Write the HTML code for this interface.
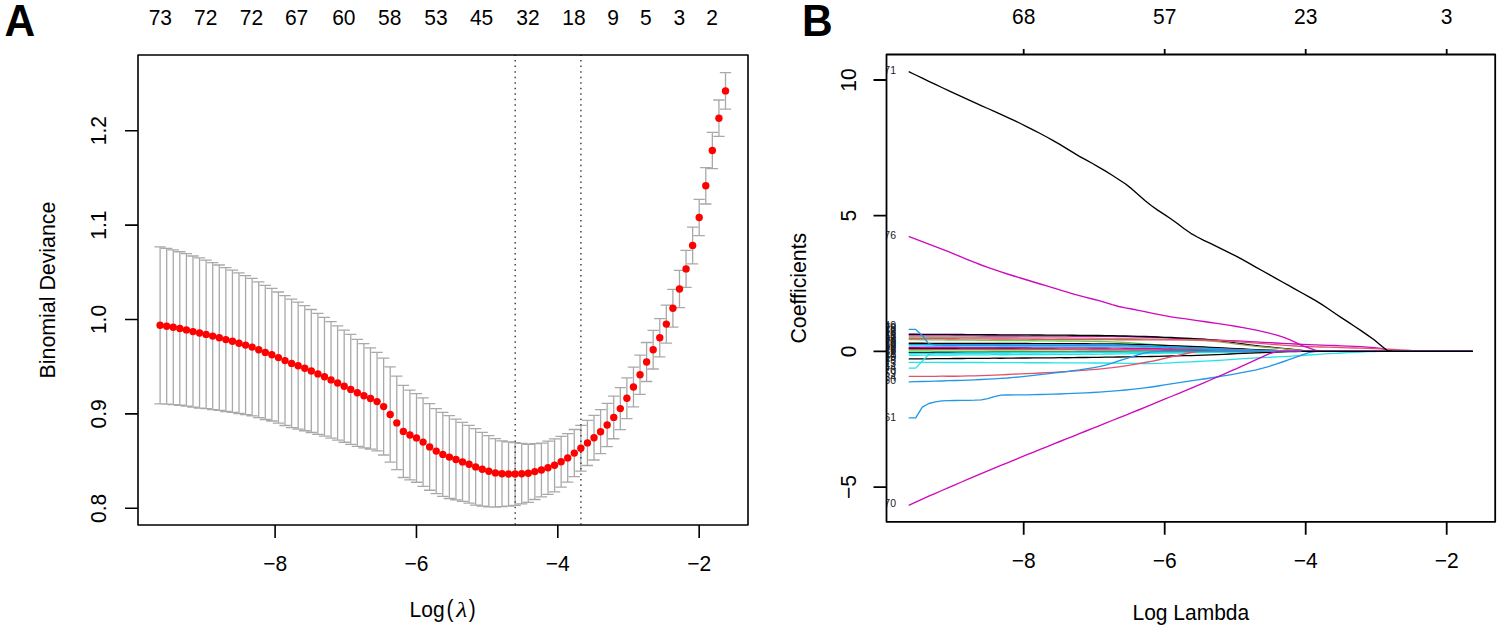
<!DOCTYPE html><html><head><meta charset="utf-8"><style>html,body{margin:0;padding:0;background:#fff;width:1500px;height:633px;overflow:hidden;position:relative}</style></head><body>
<svg width="1500" height="633" viewBox="0 0 1500 633" style="position:absolute;left:0;top:0">
<rect width="1500" height="633" fill="#fff"/>
<path d="M160.10 246.81V403.79M154.45 246.81H165.75M154.45 403.79H165.75M166.67 248.38V404.22M161.02 248.38H172.32M161.02 404.22H172.32M173.25 249.96V404.64M167.60 249.96H178.90M167.60 404.64H178.90M179.82 251.73V405.27M174.17 251.73H185.47M174.17 405.27H185.47M186.40 253.71V406.09M180.75 253.71H192.05M180.75 406.09H192.05M192.97 255.99V407.21M187.32 255.99H198.62M187.32 407.21H198.62M199.55 257.96V408.04M193.90 257.96H205.20M193.90 408.04H205.20M206.12 260.13V408.67M200.47 260.13H211.77M200.47 408.67H211.77M212.70 262.62V409.58M207.05 262.62H218.35M207.05 409.58H218.35M219.27 265.01V410.39M213.62 265.01H224.92M213.62 410.39H224.92M225.84 267.70V411.50M220.19 267.70H231.49M220.19 411.50H231.49M232.42 270.19V412.41M226.77 270.19H238.07M226.77 412.41H238.07M238.99 272.88V413.52M233.34 272.88H244.64M233.34 413.52H244.64M245.57 275.58V414.62M239.92 275.58H251.22M239.92 414.62H251.22M252.14 278.38V415.82M246.49 278.38H257.79M246.49 415.82H257.79M258.72 281.88V417.72M253.07 281.88H264.37M253.07 417.72H264.37M265.29 285.28V419.52M259.64 285.28H270.94M259.64 419.52H270.94M271.87 288.38V421.02M266.22 288.38H277.52M266.22 421.02H277.52M278.44 291.99V423.21M272.79 291.99H284.09M272.79 423.21H284.09M285.01 295.69V425.51M279.36 295.69H290.66M279.36 425.51H290.66M291.59 299.20V427.60M285.94 299.20H297.24M285.94 427.60H297.24M298.16 302.20V429.20M292.51 302.20H303.81M292.51 429.20H303.81M304.74 305.66V430.74M299.09 305.66H310.39M299.09 430.74H310.39M311.31 309.51V432.49M305.66 309.51H316.96M305.66 432.49H316.96M317.89 313.46V434.34M312.24 313.46H323.54M312.24 434.34H323.54M324.46 317.31V436.09M318.81 317.31H330.11M318.81 436.09H330.11M331.03 321.62V438.18M325.38 321.62H336.68M325.38 438.18H336.68M337.61 325.84V440.16M331.96 325.84H343.26M331.96 440.16H343.26M344.18 330.16V442.24M338.53 330.16H349.83M338.53 442.24H349.83M350.76 334.47V444.33M345.11 334.47H356.41M345.11 444.33H356.41M357.33 339.28V446.32M351.68 339.28H362.98M351.68 446.32H362.98M363.91 343.62V447.78M358.26 343.62H369.56M358.26 447.78H369.56M370.48 347.85V449.15M364.83 347.85H376.13M364.83 449.15H376.13M377.06 352.39V450.81M371.41 352.39H382.71M371.41 450.81H382.71M383.63 358.21V454.99M377.98 358.21H389.28M377.98 454.99H389.28M390.20 366.81V462.19M384.55 366.81H395.85M384.55 462.19H395.85M396.78 376.13V469.67M391.13 376.13H402.43M391.13 469.67H402.43M403.35 385.29V477.51M397.70 385.29H409.00M397.70 477.51H409.00M409.93 390.19V479.81M404.28 390.19H415.58M404.28 479.81H415.58M416.50 393.53V482.27M410.85 393.53H422.15M410.85 482.27H422.15M423.08 397.90V486.30M417.43 397.90H428.73M417.43 486.30H428.73M429.65 403.54V490.26M424.00 403.54H435.30M424.00 490.26H435.30M436.23 408.59V493.61M430.58 408.59H441.88M430.58 493.61H441.88M442.80 412.44V496.36M437.15 412.44H448.45M437.15 496.36H448.45M449.37 415.69V498.51M443.72 415.69H455.02M443.72 498.51H455.02M455.95 419.03V499.97M450.30 419.03H461.60M450.30 499.97H461.60M462.52 422.37V501.43M456.87 422.37H468.17M456.87 501.43H468.17M469.10 425.33V503.07M463.45 425.33H474.75M463.45 503.07H474.75M475.67 428.69V505.11M470.02 428.69H481.32M470.02 505.11H481.32M482.25 432.39V506.21M476.60 432.39H487.90M476.60 506.21H487.90M488.82 435.70V506.90M483.17 435.70H494.47M483.17 506.90H494.47M495.40 438.68V507.12M489.75 438.68H501.05M489.75 507.12H501.05M501.97 440.85V506.55M496.32 440.85H507.62M496.32 506.55H507.62M508.54 441.88V506.12M502.89 441.88H514.19M502.89 506.12H514.19M515.12 442.58V505.42M509.47 442.58H520.77M509.47 505.42H520.77M521.69 443.46V503.94M516.04 443.46H527.34M516.04 503.94H527.34M528.27 444.25V502.35M522.62 444.25H533.92M522.62 502.35H533.92M534.84 443.68V499.52M529.19 443.68H540.49M529.19 499.52H540.49M541.42 443.20V496.80M535.77 443.20H547.07M535.77 496.80H547.07M547.99 441.05V494.35M542.34 441.05H553.64M542.34 494.35H553.64M554.57 438.80V491.80M548.92 438.80H560.22M548.92 491.80H560.22M561.14 436.41V487.19M555.49 436.41H566.79M555.49 487.19H566.79M567.71 433.65V482.15M562.06 433.65H573.36M562.06 482.15H573.36M574.29 429.52V476.68M568.64 429.52H579.94M568.64 476.68H579.94M580.86 425.28V471.12M575.21 425.28H586.51M575.21 471.12H586.51M587.44 420.29V465.51M581.79 420.29H593.09M581.79 465.51H593.09M594.01 415.39V460.01M588.36 415.39H599.66M588.36 460.01H599.66M600.59 409.69V453.71M594.94 409.69H606.24M594.94 453.71H606.24M607.16 403.32V446.68M601.51 403.32H612.81M601.51 446.68H612.81M613.73 396.05V438.75M608.08 396.05H619.38M608.08 438.75H619.38M620.31 387.59V429.61M614.66 387.59H625.96M614.66 429.61H625.96M626.88 377.88V418.72M621.23 377.88H632.53M621.23 418.72H632.53M633.46 367.20V406.80M627.81 367.20H639.11M627.81 406.80H639.11M640.03 355.16V394.44M634.38 355.16H645.68M634.38 394.44H645.68M646.61 342.52V381.48M640.96 342.52H652.26M640.96 381.48H652.26M653.18 330.38V369.02M647.53 330.38H658.83M647.53 369.02H658.83M659.76 318.64V356.96M654.11 318.64H665.41M654.11 356.96H665.41M666.33 305.10V343.10M660.68 305.10H671.98M660.68 343.10H671.98M672.90 289.36V327.04M667.25 289.36H678.55M667.25 327.04H678.55M679.48 270.32V307.68M673.83 270.32H685.13M673.83 307.68H685.13M686.05 250.38V287.42M680.40 250.38H691.70M680.40 287.42H691.70M692.63 227.14V263.86M686.98 227.14H698.28M686.98 263.86H698.28M699.20 199.30V235.70M693.55 199.30H704.85M693.55 235.70H704.85M705.78 167.60V204.00M700.13 167.60H711.43M700.13 204.00H711.43M712.35 132.30V168.70M706.70 132.30H718.00M706.70 168.70H718.00M718.93 100.00V136.40M713.28 100.00H724.58M713.28 136.40H724.58M725.50 72.70V109.10M719.85 72.70H731.15M719.85 109.10H731.15" stroke="#a9a9a9" stroke-width="1.3" fill="none"/>
<line x1="515.2" y1="55" x2="515.2" y2="525.0" stroke="#444" stroke-width="1.5" stroke-dasharray="1.5 4.013" stroke-dashoffset="-5.1"/>
<line x1="580.9" y1="55" x2="580.9" y2="525.0" stroke="#444" stroke-width="1.5" stroke-dasharray="1.5 4.013" stroke-dashoffset="-5.1"/>
<g fill="#ff0000"><circle cx="160.10" cy="325.30" r="3.7"/><circle cx="166.67" cy="326.30" r="3.7"/><circle cx="173.25" cy="327.30" r="3.7"/><circle cx="179.82" cy="328.50" r="3.7"/><circle cx="186.40" cy="329.90" r="3.7"/><circle cx="192.97" cy="331.60" r="3.7"/><circle cx="199.55" cy="333.00" r="3.7"/><circle cx="206.12" cy="334.40" r="3.7"/><circle cx="212.70" cy="336.10" r="3.7"/><circle cx="219.27" cy="337.70" r="3.7"/><circle cx="225.84" cy="339.60" r="3.7"/><circle cx="232.42" cy="341.30" r="3.7"/><circle cx="238.99" cy="343.20" r="3.7"/><circle cx="245.57" cy="345.10" r="3.7"/><circle cx="252.14" cy="347.10" r="3.7"/><circle cx="258.72" cy="349.80" r="3.7"/><circle cx="265.29" cy="352.40" r="3.7"/><circle cx="271.87" cy="354.70" r="3.7"/><circle cx="278.44" cy="357.60" r="3.7"/><circle cx="285.01" cy="360.60" r="3.7"/><circle cx="291.59" cy="363.40" r="3.7"/><circle cx="298.16" cy="365.70" r="3.7"/><circle cx="304.74" cy="368.20" r="3.7"/><circle cx="311.31" cy="371.00" r="3.7"/><circle cx="317.89" cy="373.90" r="3.7"/><circle cx="324.46" cy="376.70" r="3.7"/><circle cx="331.03" cy="379.90" r="3.7"/><circle cx="337.61" cy="383.00" r="3.7"/><circle cx="344.18" cy="386.20" r="3.7"/><circle cx="350.76" cy="389.40" r="3.7"/><circle cx="357.33" cy="392.80" r="3.7"/><circle cx="363.91" cy="395.70" r="3.7"/><circle cx="370.48" cy="398.50" r="3.7"/><circle cx="377.06" cy="401.60" r="3.7"/><circle cx="383.63" cy="406.60" r="3.7"/><circle cx="390.20" cy="414.50" r="3.7"/><circle cx="396.78" cy="422.90" r="3.7"/><circle cx="403.35" cy="431.40" r="3.7"/><circle cx="409.93" cy="435.00" r="3.7"/><circle cx="416.50" cy="437.90" r="3.7"/><circle cx="423.08" cy="442.10" r="3.7"/><circle cx="429.65" cy="446.90" r="3.7"/><circle cx="436.23" cy="451.10" r="3.7"/><circle cx="442.80" cy="454.40" r="3.7"/><circle cx="449.37" cy="457.10" r="3.7"/><circle cx="455.95" cy="459.50" r="3.7"/><circle cx="462.52" cy="461.90" r="3.7"/><circle cx="469.10" cy="464.20" r="3.7"/><circle cx="475.67" cy="466.90" r="3.7"/><circle cx="482.25" cy="469.30" r="3.7"/><circle cx="488.82" cy="471.30" r="3.7"/><circle cx="495.40" cy="472.90" r="3.7"/><circle cx="501.97" cy="473.70" r="3.7"/><circle cx="508.54" cy="474.00" r="3.7"/><circle cx="515.12" cy="474.00" r="3.7"/><circle cx="521.69" cy="473.70" r="3.7"/><circle cx="528.27" cy="473.30" r="3.7"/><circle cx="534.84" cy="471.60" r="3.7"/><circle cx="541.42" cy="470.00" r="3.7"/><circle cx="547.99" cy="467.70" r="3.7"/><circle cx="554.57" cy="465.30" r="3.7"/><circle cx="561.14" cy="461.80" r="3.7"/><circle cx="567.71" cy="457.90" r="3.7"/><circle cx="574.29" cy="453.10" r="3.7"/><circle cx="580.86" cy="448.20" r="3.7"/><circle cx="587.44" cy="442.90" r="3.7"/><circle cx="594.01" cy="437.70" r="3.7"/><circle cx="600.59" cy="431.70" r="3.7"/><circle cx="607.16" cy="425.00" r="3.7"/><circle cx="613.73" cy="417.40" r="3.7"/><circle cx="620.31" cy="408.60" r="3.7"/><circle cx="626.88" cy="398.30" r="3.7"/><circle cx="633.46" cy="387.00" r="3.7"/><circle cx="640.03" cy="374.80" r="3.7"/><circle cx="646.61" cy="362.00" r="3.7"/><circle cx="653.18" cy="349.70" r="3.7"/><circle cx="659.76" cy="337.80" r="3.7"/><circle cx="666.33" cy="324.10" r="3.7"/><circle cx="672.90" cy="308.20" r="3.7"/><circle cx="679.48" cy="289.00" r="3.7"/><circle cx="686.05" cy="268.90" r="3.7"/><circle cx="692.63" cy="245.50" r="3.7"/><circle cx="699.20" cy="217.50" r="3.7"/><circle cx="705.78" cy="185.80" r="3.7"/><circle cx="712.35" cy="150.50" r="3.7"/><circle cx="718.93" cy="118.20" r="3.7"/><circle cx="725.50" cy="90.90" r="3.7"/></g>
<rect x="138" y="55" width="610" height="470.0" fill="none" stroke="#000" stroke-width="1.6" stroke-linejoin="round"/>
<path d="M125 508.30H138M125 413.90H138M125 319.50H138M125 225.10H138M125 130.70H138M275.10 525.0V538.0M416.46 525.0V538.0M557.82 525.0V538.0M699.18 525.0V538.0" stroke="#000" stroke-width="1.6" fill="none"/>
<g font-family='"Liberation Sans", sans-serif' font-size="21" fill="#000">
<text transform="translate(106.30 508.30) rotate(-90) scale(1 1.04)" text-anchor="middle">0.8</text>
<text transform="translate(106.30 413.90) rotate(-90) scale(1 1.04)" text-anchor="middle">0.9</text>
<text transform="translate(106.30 319.50) rotate(-90) scale(1 1.04)" text-anchor="middle">1.0</text>
<text transform="translate(106.30 225.10) rotate(-90) scale(1 1.04)" text-anchor="middle">1.1</text>
<text transform="translate(106.30 130.70) rotate(-90) scale(1 1.04)" text-anchor="middle">1.2</text>
<text transform="translate(275.10 570.90) scale(1 1.04)" text-anchor="middle">−8</text>
<text transform="translate(416.46 570.90) scale(1 1.04)" text-anchor="middle">−6</text>
<text transform="translate(557.82 570.90) scale(1 1.04)" text-anchor="middle">−4</text>
<text transform="translate(699.18 570.90) scale(1 1.04)" text-anchor="middle">−2</text>
<text transform="translate(160.30 24.60) scale(1 1.04)" text-anchor="middle">73</text>
<text transform="translate(205.70 24.60) scale(1 1.04)" text-anchor="middle">72</text>
<text transform="translate(251.50 24.60) scale(1 1.04)" text-anchor="middle">72</text>
<text transform="translate(296.60 24.60) scale(1 1.04)" text-anchor="middle">67</text>
<text transform="translate(343.80 24.60) scale(1 1.04)" text-anchor="middle">60</text>
<text transform="translate(389.70 24.60) scale(1 1.04)" text-anchor="middle">58</text>
<text transform="translate(436.00 24.60) scale(1 1.04)" text-anchor="middle">53</text>
<text transform="translate(481.60 24.60) scale(1 1.04)" text-anchor="middle">45</text>
<text transform="translate(528.00 24.60) scale(1 1.04)" text-anchor="middle">32</text>
<text transform="translate(574.00 24.60) scale(1 1.04)" text-anchor="middle">18</text>
<text transform="translate(613.00 24.60) scale(1 1.04)" text-anchor="middle">9</text>
<text transform="translate(645.80 24.60) scale(1 1.04)" text-anchor="middle">5</text>
<text transform="translate(679.40 24.60) scale(1 1.04)" text-anchor="middle">3</text>
<text transform="translate(712.00 24.60) scale(1 1.04)" text-anchor="middle">2</text>
<text transform="translate(55.30 290.00) rotate(-90) scale(1.0175 1.04)" text-anchor="middle">Binomial Deviance</text>
<text transform="translate(409.60 617.00) scale(1 1.04)" text-anchor="start">Log</text>
<text transform="translate(446.4 616.7) scale(1 1.11)">(</text>
<text transform="translate(468.8 616.7) scale(1 1.11)">)</text>
<text transform="translate(456.2 616.7) scale(1.2 1)" font-size="21.3" font-family="'Liberation Serif', serif" font-style="italic">λ</text>
</g>
<text transform="translate(4.6 35.6) scale(1 1.035)" font-family='"Liberation Sans", sans-serif' font-weight="bold" font-size="42.5" fill="#000">A</text>
<g fill="none" stroke-width="1.35" stroke-linejoin="round" stroke-linecap="round">
<path d="M909.2 335.8L915.7 335.8L922.3 335.8L928.8 335.8L935.4 335.9L941.9 335.9L948.5 335.9L955.0 335.9L961.6 335.9L968.1 335.9L974.7 335.9L981.2 336.0L987.8 336.0L994.3 336.0L1000.9 336.0L1007.4 336.0L1014.0 336.0L1020.5 336.0L1027.1 336.1L1033.6 336.1L1040.2 336.1L1046.7 336.1L1053.2 336.1L1059.8 336.1L1066.3 336.2L1072.9 336.2L1079.4 336.2L1086.0 336.2L1092.5 336.3L1099.1 336.3L1105.6 336.3L1112.2 336.4L1118.7 336.5L1125.3 336.7L1131.8 336.8L1138.4 337.0L1144.9 337.2L1151.5 337.5L1158.0 337.7L1164.6 337.9L1171.1 338.2L1177.7 338.4L1184.2 338.7L1190.8 338.9L1197.3 339.2L1203.8 339.4L1210.4 339.7L1216.9 340.0L1223.5 340.3L1230.0 340.6L1236.6 340.9L1243.1 341.2L1249.7 341.6L1256.2 341.9L1262.8 342.3L1269.3 342.6L1275.9 343.0L1282.4 343.3L1289.0 343.6L1295.5 344.0L1302.1 344.3L1308.6 344.6L1315.2 344.8L1321.7 345.1L1328.3 345.3L1334.8 345.5L1341.3 345.8L1347.9 346.1L1354.4 346.4L1361.0 346.7L1367.5 347.2L1374.1 347.7L1380.6 348.3L1387.2 350.0L1393.7 351.4L1400.3 351.4L1406.8 351.4L1413.4 351.4L1419.9 351.4L1426.5 351.4L1433.0 351.4L1439.6 351.4L1446.1 351.4L1452.7 351.4L1459.2 351.4L1465.8 351.4L1472.3 351.4" stroke="#CD0BBC"/>
<path d="M909.2 334.2L915.7 334.2L922.3 334.3L928.8 334.3L935.4 334.4L941.9 334.4L948.5 334.4L955.0 334.5L961.6 334.5L968.1 334.6L974.7 334.6L981.2 334.7L987.8 334.7L994.3 334.7L1000.9 334.8L1007.4 334.8L1014.0 334.9L1020.5 334.9L1027.1 334.9L1033.6 335.0L1040.2 335.0L1046.7 335.1L1053.2 335.1L1059.8 335.1L1066.3 335.2L1072.9 335.2L1079.4 335.3L1086.0 335.4L1092.5 335.4L1099.1 335.5L1105.6 335.6L1112.2 335.7L1118.7 335.8L1125.3 336.0L1131.8 336.1L1138.4 336.3L1144.9 336.5L1151.5 336.7L1158.0 337.0L1164.6 337.3L1171.1 337.5L1177.7 337.8L1184.2 338.2L1190.8 338.5L1197.3 338.8L1203.8 339.2L1210.4 339.8L1216.9 340.5L1223.5 341.3L1230.0 342.2L1236.6 343.1L1243.1 344.0L1249.7 344.9L1256.2 345.7L1262.8 346.4L1269.3 347.0L1275.9 347.7L1282.4 348.4L1289.0 349.0L1295.5 349.7L1302.1 350.3L1308.6 350.7L1315.2 351.1L1321.7 351.3L1328.3 351.4L1334.8 351.4L1341.3 351.4L1347.9 351.4L1354.4 351.4L1361.0 351.4L1367.5 351.4L1374.1 351.4L1380.6 351.4L1387.2 351.4L1393.7 351.4L1400.3 351.4L1406.8 351.4L1413.4 351.4L1419.9 351.4L1426.5 351.4L1433.0 351.4L1439.6 351.4L1446.1 351.4L1452.7 351.4L1459.2 351.4L1465.8 351.4L1472.3 351.4" stroke="#000000"/>
<path d="M909.2 337.1L915.7 337.1L922.3 337.2L928.8 337.2L935.4 337.3L941.9 337.3L948.5 337.3L955.0 337.4L961.6 337.4L968.1 337.4L974.7 337.5L981.2 337.5L987.8 337.6L994.3 337.6L1000.9 337.6L1007.4 337.7L1014.0 337.7L1020.5 337.8L1027.1 337.8L1033.6 337.8L1040.2 337.9L1046.7 337.9L1053.2 337.9L1059.8 338.0L1066.3 338.0L1072.9 338.1L1079.4 338.1L1086.0 338.2L1092.5 338.2L1099.1 338.3L1105.6 338.4L1112.2 338.4L1118.7 338.5L1125.3 338.6L1131.8 338.7L1138.4 338.8L1144.9 338.9L1151.5 339.1L1158.0 339.2L1164.6 339.4L1171.1 339.6L1177.7 339.7L1184.2 339.9L1190.8 340.2L1197.3 340.4L1203.8 340.7L1210.4 341.1L1216.9 341.7L1223.5 342.4L1230.0 343.2L1236.6 344.0L1243.1 344.8L1249.7 345.6L1256.2 346.4L1262.8 347.0L1269.3 347.5L1275.9 348.1L1282.4 348.7L1289.0 349.3L1295.5 349.9L1302.1 350.4L1308.6 350.8L1315.2 351.1L1321.7 351.3L1328.3 351.4L1334.8 351.4L1341.3 351.4L1347.9 351.4L1354.4 351.4L1361.0 351.4L1367.5 351.4L1374.1 351.4L1380.6 351.4L1387.2 351.4L1393.7 351.4L1400.3 351.4L1406.8 351.4L1413.4 351.4L1419.9 351.4L1426.5 351.4L1433.0 351.4L1439.6 351.4L1446.1 351.4L1452.7 351.4L1459.2 351.4L1465.8 351.4L1472.3 351.4" stroke="#a0a060"/>
<path d="M909.2 339.6L915.7 339.7L922.3 339.7L928.8 339.8L935.4 339.8L941.9 339.9L948.5 340.0L955.0 340.0L961.6 340.1L968.1 340.1L974.7 340.2L981.2 340.3L987.8 340.3L994.3 340.4L1000.9 340.5L1007.4 340.5L1014.0 340.6L1020.5 340.6L1027.1 340.7L1033.6 340.7L1040.2 340.8L1046.7 340.8L1053.2 340.9L1059.8 341.0L1066.3 341.0L1072.9 341.1L1079.4 341.2L1086.0 341.3L1092.5 341.4L1099.1 341.5L1105.6 341.6L1112.2 341.9L1118.7 342.1L1125.3 342.5L1131.8 342.9L1138.4 343.3L1144.9 343.8L1151.5 344.3L1158.0 344.8L1164.6 345.3L1171.1 345.8L1177.7 346.2L1184.2 346.7L1190.8 347.1L1197.3 347.5L1203.8 347.8L1210.4 348.1L1216.9 348.4L1223.5 348.7L1230.0 349.0L1236.6 349.2L1243.1 349.5L1249.7 349.7L1256.2 349.9L1262.8 350.2L1269.3 350.4L1275.9 350.6L1282.4 350.9L1289.0 351.1L1295.5 351.2L1302.1 351.3L1308.6 351.4L1315.2 351.4L1321.7 351.4L1328.3 351.4L1334.8 351.4L1341.3 351.4L1347.9 351.4L1354.4 351.4L1361.0 351.4L1367.5 351.4L1374.1 351.4L1380.6 351.4L1387.2 351.4L1393.7 351.4L1400.3 351.4L1406.8 351.4L1413.4 351.4L1419.9 351.4L1426.5 351.4L1433.0 351.4L1439.6 351.4L1446.1 351.4L1452.7 351.4L1459.2 351.4L1465.8 351.4L1472.3 351.4" stroke="#61D04F"/>
<path d="M909.2 343.2L915.7 343.2L922.3 343.2L928.8 343.3L935.4 343.3L941.9 343.3L948.5 343.3L955.0 343.3L961.6 343.4L968.1 343.4L974.7 343.4L981.2 343.4L987.8 343.4L994.3 343.5L1000.9 343.5L1007.4 343.5L1014.0 343.5L1020.5 343.5L1027.1 343.5L1033.6 343.6L1040.2 343.6L1046.7 343.6L1053.2 343.6L1059.8 343.6L1066.3 343.6L1072.9 343.7L1079.4 343.7L1086.0 343.7L1092.5 343.8L1099.1 343.8L1105.6 343.8L1112.2 343.9L1118.7 344.0L1125.3 344.2L1131.8 344.3L1138.4 344.5L1144.9 344.7L1151.5 344.9L1158.0 345.2L1164.6 345.4L1171.1 345.7L1177.7 345.9L1184.2 346.2L1190.8 346.4L1197.3 346.7L1203.8 347.0L1210.4 347.3L1216.9 347.6L1223.5 347.9L1230.0 348.3L1236.6 348.7L1243.1 349.0L1249.7 349.3L1256.2 349.6L1262.8 349.9L1269.3 350.2L1275.9 350.5L1282.4 350.8L1289.0 351.0L1295.5 351.2L1302.1 351.3L1308.6 351.4L1315.2 351.4L1321.7 351.4L1328.3 351.4L1334.8 351.4L1341.3 351.4L1347.9 351.4L1354.4 351.4L1361.0 351.4L1367.5 351.4L1374.1 351.4L1380.6 351.4L1387.2 351.4L1393.7 351.4L1400.3 351.4L1406.8 351.4L1413.4 351.4L1419.9 351.4L1426.5 351.4L1433.0 351.4L1439.6 351.4L1446.1 351.4L1452.7 351.4L1459.2 351.4L1465.8 351.4L1472.3 351.4" stroke="#000000"/>
<path d="M909.2 344.6L915.7 344.6L922.3 344.6L928.8 344.6L935.4 344.6L941.9 344.6L948.5 344.7L955.0 344.7L961.6 344.7L968.1 344.7L974.7 344.7L981.2 344.7L987.8 344.7L994.3 344.7L1000.9 344.7L1007.4 344.7L1014.0 344.8L1020.5 344.8L1027.1 344.8L1033.6 344.8L1040.2 344.8L1046.7 344.8L1053.2 344.8L1059.8 344.8L1066.3 344.8L1072.9 344.8L1079.4 344.8L1086.0 344.9L1092.5 344.9L1099.1 344.9L1105.6 344.9L1112.2 345.0L1118.7 345.1L1125.3 345.3L1131.8 345.5L1138.4 345.7L1144.9 345.9L1151.5 346.1L1158.0 346.4L1164.6 346.6L1171.1 346.9L1177.7 347.2L1184.2 347.4L1190.8 347.7L1197.3 347.9L1203.8 348.1L1210.4 348.4L1216.9 348.6L1223.5 348.9L1230.0 349.2L1236.6 349.4L1243.1 349.6L1249.7 349.9L1256.2 350.1L1262.8 350.3L1269.3 350.5L1275.9 350.7L1282.4 350.9L1289.0 351.1L1295.5 351.3L1302.1 351.4L1308.6 351.4L1315.2 351.4L1321.7 351.4L1328.3 351.4L1334.8 351.4L1341.3 351.4L1347.9 351.4L1354.4 351.4L1361.0 351.4L1367.5 351.4L1374.1 351.4L1380.6 351.4L1387.2 351.4L1393.7 351.4L1400.3 351.4L1406.8 351.4L1413.4 351.4L1419.9 351.4L1426.5 351.4L1433.0 351.4L1439.6 351.4L1446.1 351.4L1452.7 351.4L1459.2 351.4L1465.8 351.4L1472.3 351.4" stroke="#2297E6"/>
<path d="M909.2 345.9L915.7 345.9L922.3 345.9L928.8 346.0L935.4 346.0L941.9 346.0L948.5 346.0L955.0 346.0L961.6 346.1L968.1 346.1L974.7 346.1L981.2 346.1L987.8 346.1L994.3 346.2L1000.9 346.2L1007.4 346.2L1014.0 346.2L1020.5 346.2L1027.1 346.2L1033.6 346.3L1040.2 346.3L1046.7 346.3L1053.2 346.3L1059.8 346.3L1066.3 346.4L1072.9 346.4L1079.4 346.4L1086.0 346.4L1092.5 346.5L1099.1 346.5L1105.6 346.5L1112.2 346.6L1118.7 346.7L1125.3 346.9L1131.8 347.0L1138.4 347.2L1144.9 347.3L1151.5 347.5L1158.0 347.7L1164.6 347.9L1171.1 348.1L1177.7 348.3L1184.2 348.5L1190.8 348.7L1197.3 348.9L1203.8 349.1L1210.4 349.3L1216.9 349.5L1223.5 349.7L1230.0 349.9L1236.6 350.1L1243.1 350.3L1249.7 350.4L1256.2 350.6L1262.8 350.8L1269.3 350.9L1275.9 351.1L1282.4 351.2L1289.0 351.3L1295.5 351.4L1302.1 351.4L1308.6 351.4L1315.2 351.4L1321.7 351.4L1328.3 351.4L1334.8 351.4L1341.3 351.4L1347.9 351.4L1354.4 351.4L1361.0 351.4L1367.5 351.4L1374.1 351.4L1380.6 351.4L1387.2 351.4L1393.7 351.4L1400.3 351.4L1406.8 351.4L1413.4 351.4L1419.9 351.4L1426.5 351.4L1433.0 351.4L1439.6 351.4L1446.1 351.4L1452.7 351.4L1459.2 351.4L1465.8 351.4L1472.3 351.4" stroke="#28E2E5"/>
<path d="M909.2 347.4L915.7 347.4L922.3 347.4L928.8 347.5L935.4 347.5L941.9 347.5L948.5 347.5L955.0 347.5L961.6 347.6L968.1 347.6L974.7 347.6L981.2 347.6L987.8 347.6L994.3 347.7L1000.9 347.7L1007.4 347.7L1014.0 347.7L1020.5 347.7L1027.1 347.7L1033.6 347.8L1040.2 347.8L1046.7 347.8L1053.2 347.8L1059.8 347.8L1066.3 347.9L1072.9 347.9L1079.4 347.9L1086.0 347.9L1092.5 348.0L1099.1 348.0L1105.6 348.0L1112.2 348.1L1118.7 348.2L1125.3 348.2L1131.8 348.3L1138.4 348.4L1144.9 348.5L1151.5 348.6L1158.0 348.7L1164.6 348.8L1171.1 349.0L1177.7 349.1L1184.2 349.2L1190.8 349.3L1197.3 349.4L1203.8 349.6L1210.4 349.7L1216.9 349.9L1223.5 350.0L1230.0 350.2L1236.6 350.4L1243.1 350.5L1249.7 350.6L1256.2 350.8L1262.8 350.9L1269.3 351.0L1275.9 351.1L1282.4 351.3L1289.0 351.3L1295.5 351.4L1302.1 351.4L1308.6 351.4L1315.2 351.4L1321.7 351.4L1328.3 351.4L1334.8 351.4L1341.3 351.4L1347.9 351.4L1354.4 351.4L1361.0 351.4L1367.5 351.4L1374.1 351.4L1380.6 351.4L1387.2 351.4L1393.7 351.4L1400.3 351.4L1406.8 351.4L1413.4 351.4L1419.9 351.4L1426.5 351.4L1433.0 351.4L1439.6 351.4L1446.1 351.4L1452.7 351.4L1459.2 351.4L1465.8 351.4L1472.3 351.4" stroke="#CD0BBC"/>
<path d="M909.2 348.5L915.7 348.5L922.3 348.6L928.8 348.6L935.4 348.6L941.9 348.7L948.5 348.7L955.0 348.7L961.6 348.8L968.1 348.8L974.7 348.8L981.2 348.9L987.8 348.9L994.3 348.9L1000.9 349.0L1007.4 349.0L1014.0 349.0L1020.5 349.1L1027.1 349.1L1033.6 349.1L1040.2 349.2L1046.7 349.2L1053.2 349.2L1059.8 349.3L1066.3 349.3L1072.9 349.3L1079.4 349.4L1086.0 349.4L1092.5 349.5L1099.1 349.5L1105.6 349.5L1112.2 349.6L1118.7 349.6L1125.3 349.7L1131.8 349.7L1138.4 349.8L1144.9 349.8L1151.5 349.9L1158.0 349.9L1164.6 350.0L1171.1 350.0L1177.7 350.1L1184.2 350.1L1190.8 350.2L1197.3 350.3L1203.8 350.3L1210.4 350.4L1216.9 350.5L1223.5 350.6L1230.0 350.7L1236.6 350.8L1243.1 350.9L1249.7 351.0L1256.2 351.0L1262.8 351.1L1269.3 351.2L1275.9 351.3L1282.4 351.3L1289.0 351.4L1295.5 351.4L1302.1 351.4L1308.6 351.4L1315.2 351.4L1321.7 351.4L1328.3 351.4L1334.8 351.4L1341.3 351.4L1347.9 351.4L1354.4 351.4L1361.0 351.4L1367.5 351.4L1374.1 351.4L1380.6 351.4L1387.2 351.4L1393.7 351.4L1400.3 351.4L1406.8 351.4L1413.4 351.4L1419.9 351.4L1426.5 351.4L1433.0 351.4L1439.6 351.4L1446.1 351.4L1452.7 351.4L1459.2 351.4L1465.8 351.4L1472.3 351.4" stroke="#000000"/>
<path d="M909.2 349.3L915.7 349.3L922.3 349.3L928.8 349.3L935.4 349.4L941.9 349.4L948.5 349.4L955.0 349.4L961.6 349.4L968.1 349.4L974.7 349.4L981.2 349.4L987.8 349.5L994.3 349.5L1000.9 349.5L1007.4 349.5L1014.0 349.5L1020.5 349.5L1027.1 349.5L1033.6 349.6L1040.2 349.6L1046.7 349.6L1053.2 349.6L1059.8 349.6L1066.3 349.6L1072.9 349.7L1079.4 349.7L1086.0 349.7L1092.5 349.7L1099.1 349.7L1105.6 349.7L1112.2 349.7L1118.7 349.7L1125.3 349.7L1131.8 349.7L1138.4 349.7L1144.9 349.7L1151.5 349.7L1158.0 349.7L1164.6 349.8L1171.1 349.8L1177.7 349.8L1184.2 349.8L1190.8 349.8L1197.3 349.8L1203.8 349.8L1210.4 349.9L1216.9 350.0L1223.5 350.1L1230.0 350.2L1236.6 350.3L1243.1 350.5L1249.7 350.6L1256.2 350.7L1262.8 350.8L1269.3 350.9L1275.9 351.0L1282.4 351.1L1289.0 351.2L1295.5 351.2L1302.1 351.3L1308.6 351.4L1315.2 351.4L1321.7 351.4L1328.3 351.4L1334.8 351.4L1341.3 351.4L1347.9 351.4L1354.4 351.4L1361.0 351.4L1367.5 351.4L1374.1 351.4L1380.6 351.4L1387.2 351.4L1393.7 351.4L1400.3 351.4L1406.8 351.4L1413.4 351.4L1419.9 351.4L1426.5 351.4L1433.0 351.4L1439.6 351.4L1446.1 351.4L1452.7 351.4L1459.2 351.4L1465.8 351.4L1472.3 351.4" stroke="#DF536B"/>
<path d="M909.2 351.0L915.7 351.0L922.3 351.0L928.8 351.0L935.4 351.1L941.9 351.1L948.5 351.1L955.0 351.1L961.6 351.1L968.1 351.1L974.7 351.1L981.2 351.1L987.8 351.2L994.3 351.2L1000.9 351.2L1007.4 351.2L1014.0 351.2L1020.5 351.2L1027.1 351.2L1033.6 351.3L1040.2 351.3L1046.7 351.3L1053.2 351.3L1059.8 351.3L1066.3 351.4L1072.9 351.4L1079.4 351.4L1086.0 351.4L1092.5 351.4L1099.1 351.4L1105.6 351.4L1112.2 351.4L1118.7 351.4L1125.3 351.4L1131.8 351.4L1138.4 351.4L1144.9 351.4L1151.5 351.4L1158.0 351.4L1164.6 351.4L1171.1 351.4L1177.7 351.4L1184.2 351.4L1190.8 351.4L1197.3 351.4L1203.8 351.4L1210.4 351.4L1216.9 351.4L1223.5 351.4L1230.0 351.4L1236.6 351.4L1243.1 351.4L1249.7 351.4L1256.2 351.4L1262.8 351.4L1269.3 351.4L1275.9 351.4L1282.4 351.4L1289.0 351.4L1295.5 351.4L1302.1 351.4L1308.6 351.4L1315.2 351.4L1321.7 351.4L1328.3 351.4L1334.8 351.4L1341.3 351.4L1347.9 351.4L1354.4 351.4L1361.0 351.4L1367.5 351.4L1374.1 351.4L1380.6 351.4L1387.2 351.4L1393.7 351.4L1400.3 351.4L1406.8 351.4L1413.4 351.4L1419.9 351.4L1426.5 351.4L1433.0 351.4L1439.6 351.4L1446.1 351.4L1452.7 351.4L1459.2 351.4L1465.8 351.4L1472.3 351.4" stroke="#61D04F"/>
<path d="M909.2 352.6L915.7 352.6L922.3 352.6L928.8 352.6L935.4 352.5L941.9 352.5L948.5 352.5L955.0 352.5L961.6 352.5L968.1 352.5L974.7 352.5L981.2 352.5L987.8 352.4L994.3 352.4L1000.9 352.4L1007.4 352.4L1014.0 352.4L1020.5 352.4L1027.1 352.4L1033.6 352.3L1040.2 352.3L1046.7 352.3L1053.2 352.3L1059.8 352.3L1066.3 352.3L1072.9 352.3L1079.4 352.2L1086.0 352.2L1092.5 352.2L1099.1 352.2L1105.6 352.2L1112.2 352.2L1118.7 352.2L1125.3 352.2L1131.8 352.1L1138.4 352.1L1144.9 352.1L1151.5 352.1L1158.0 352.1L1164.6 352.1L1171.1 352.1L1177.7 352.1L1184.2 352.1L1190.8 352.0L1197.3 352.0L1203.8 352.0L1210.4 351.9L1216.9 351.8L1223.5 351.7L1230.0 351.6L1236.6 351.6L1243.1 351.5L1249.7 351.4L1256.2 351.4L1262.8 351.4L1269.3 351.4L1275.9 351.4L1282.4 351.4L1289.0 351.4L1295.5 351.4L1302.1 351.4L1308.6 351.4L1315.2 351.4L1321.7 351.4L1328.3 351.4L1334.8 351.4L1341.3 351.4L1347.9 351.4L1354.4 351.4L1361.0 351.4L1367.5 351.4L1374.1 351.4L1380.6 351.4L1387.2 351.4L1393.7 351.4L1400.3 351.4L1406.8 351.4L1413.4 351.4L1419.9 351.4L1426.5 351.4L1433.0 351.4L1439.6 351.4L1446.1 351.4L1452.7 351.4L1459.2 351.4L1465.8 351.4L1472.3 351.4" stroke="#000000"/>
<path d="M909.2 353.5L915.7 353.5L922.3 353.4L928.8 353.4L935.4 353.4L941.9 353.3L948.5 353.3L955.0 353.3L961.6 353.2L968.1 353.2L974.7 353.1L981.2 353.1L987.8 353.1L994.3 353.0L1000.9 353.0L1007.4 353.0L1014.0 352.9L1020.5 352.9L1027.1 352.8L1033.6 352.8L1040.2 352.8L1046.7 352.7L1053.2 352.7L1059.8 352.6L1066.3 352.6L1072.9 352.6L1079.4 352.5L1086.0 352.5L1092.5 352.4L1099.1 352.4L1105.6 352.4L1112.2 352.3L1118.7 352.3L1125.3 352.3L1131.8 352.2L1138.4 352.2L1144.9 352.2L1151.5 352.2L1158.0 352.1L1164.6 352.1L1171.1 352.1L1177.7 352.0L1184.2 352.0L1190.8 352.0L1197.3 351.9L1203.8 351.9L1210.4 351.8L1216.9 351.8L1223.5 351.7L1230.0 351.7L1236.6 351.6L1243.1 351.6L1249.7 351.5L1256.2 351.5L1262.8 351.5L1269.3 351.4L1275.9 351.4L1282.4 351.4L1289.0 351.4L1295.5 351.4L1302.1 351.4L1308.6 351.4L1315.2 351.4L1321.7 351.4L1328.3 351.4L1334.8 351.4L1341.3 351.4L1347.9 351.4L1354.4 351.4L1361.0 351.4L1367.5 351.4L1374.1 351.4L1380.6 351.4L1387.2 351.4L1393.7 351.4L1400.3 351.4L1406.8 351.4L1413.4 351.4L1419.9 351.4L1426.5 351.4L1433.0 351.4L1439.6 351.4L1446.1 351.4L1452.7 351.4L1459.2 351.4L1465.8 351.4L1472.3 351.4" stroke="#28E2E5"/>
<path d="M909.2 355.2L915.7 355.2L922.3 355.1L928.8 355.1L935.4 355.1L941.9 355.0L948.5 355.0L955.0 355.0L961.6 354.9L968.1 354.9L974.7 354.8L981.2 354.8L987.8 354.8L994.3 354.7L1000.9 354.7L1007.4 354.7L1014.0 354.6L1020.5 354.6L1027.1 354.6L1033.6 354.5L1040.2 354.5L1046.7 354.5L1053.2 354.4L1059.8 354.4L1066.3 354.3L1072.9 354.3L1079.4 354.3L1086.0 354.2L1092.5 354.2L1099.1 354.1L1105.6 354.0L1112.2 354.0L1118.7 353.9L1125.3 353.8L1131.8 353.7L1138.4 353.6L1144.9 353.5L1151.5 353.4L1158.0 353.3L1164.6 353.2L1171.1 353.1L1177.7 353.0L1184.2 352.8L1190.8 352.7L1197.3 352.6L1203.8 352.5L1210.4 352.4L1216.9 352.3L1223.5 352.2L1230.0 352.1L1236.6 352.1L1243.1 352.0L1249.7 351.9L1256.2 351.8L1262.8 351.7L1269.3 351.6L1275.9 351.6L1282.4 351.5L1289.0 351.4L1295.5 351.4L1302.1 351.4L1308.6 351.4L1315.2 351.4L1321.7 351.4L1328.3 351.4L1334.8 351.4L1341.3 351.4L1347.9 351.4L1354.4 351.4L1361.0 351.4L1367.5 351.4L1374.1 351.4L1380.6 351.4L1387.2 351.4L1393.7 351.4L1400.3 351.4L1406.8 351.4L1413.4 351.4L1419.9 351.4L1426.5 351.4L1433.0 351.4L1439.6 351.4L1446.1 351.4L1452.7 351.4L1459.2 351.4L1465.8 351.4L1472.3 351.4" stroke="#28E2E5"/>
<path d="M909.2 358.9L915.7 358.9L922.3 358.8L928.8 358.8L935.4 358.7L941.9 358.6L948.5 358.6L955.0 358.5L961.6 358.5L968.1 358.4L974.7 358.4L981.2 358.3L987.8 358.3L994.3 358.2L1000.9 358.2L1007.4 358.1L1014.0 358.1L1020.5 358.0L1027.1 358.0L1033.6 357.9L1040.2 357.9L1046.7 357.8L1053.2 357.8L1059.8 357.7L1066.3 357.7L1072.9 357.6L1079.4 357.5L1086.0 357.5L1092.5 357.4L1099.1 357.3L1105.6 357.2L1112.2 357.1L1118.7 357.0L1125.3 356.9L1131.8 356.8L1138.4 356.7L1144.9 356.6L1151.5 356.5L1158.0 356.3L1164.6 356.2L1171.1 356.0L1177.7 355.9L1184.2 355.7L1190.8 355.6L1197.3 355.4L1203.8 355.2L1210.4 354.9L1216.9 354.6L1223.5 354.3L1230.0 354.0L1236.6 353.7L1243.1 353.4L1249.7 353.1L1256.2 352.9L1262.8 352.6L1269.3 352.4L1275.9 352.1L1282.4 351.9L1289.0 351.7L1295.5 351.5L1302.1 351.4L1308.6 351.4L1315.2 351.4L1321.7 351.4L1328.3 351.4L1334.8 351.4L1341.3 351.4L1347.9 351.4L1354.4 351.4L1361.0 351.4L1367.5 351.4L1374.1 351.4L1380.6 351.4L1387.2 351.4L1393.7 351.4L1400.3 351.4L1406.8 351.4L1413.4 351.4L1419.9 351.4L1426.5 351.4L1433.0 351.4L1439.6 351.4L1446.1 351.4L1452.7 351.4L1459.2 351.4L1465.8 351.4L1472.3 351.4" stroke="#000000"/>
<path d="M909.2 338.5L915.7 338.5L922.3 338.6L928.8 338.6L935.4 338.6L941.9 338.7L948.5 338.7L955.0 338.7L961.6 338.8L968.1 338.8L974.7 338.9L981.2 338.9L987.8 338.9L994.3 339.0L1000.9 339.0L1007.4 339.0L1014.0 339.1L1020.5 339.1L1027.1 339.2L1033.6 339.2L1040.2 339.2L1046.7 339.3L1053.2 339.3L1059.8 339.4L1066.3 339.4L1072.9 339.5L1079.4 339.5L1086.0 339.5L1092.5 339.6L1099.1 339.6L1105.6 339.6L1112.2 339.7L1118.7 339.7L1125.3 339.7L1131.8 339.7L1138.4 339.7L1144.9 339.8L1151.5 339.8L1158.0 339.8L1164.6 339.8L1171.1 339.8L1177.7 339.9L1184.2 339.9L1190.8 339.9L1197.3 340.0L1203.8 340.0L1210.4 340.2L1216.9 340.5L1223.5 340.8L1230.0 341.2L1236.6 341.6L1243.1 342.1L1249.7 342.6L1256.2 343.2L1262.8 343.7L1269.3 344.2L1275.9 344.7L1282.4 345.2L1289.0 345.6L1295.5 346.0L1302.1 346.3L1308.6 346.5L1315.2 346.8L1321.7 347.0L1328.3 347.2L1334.8 347.4L1341.3 347.6L1347.9 347.8L1354.4 348.0L1361.0 348.2L1367.5 348.4L1374.1 348.6L1380.6 348.8L1387.2 349.1L1393.7 349.5L1400.3 349.8L1406.8 350.2L1413.4 350.6L1419.9 350.9L1426.5 351.2L1433.0 351.3L1439.6 351.4L1446.1 351.4L1452.7 351.4L1459.2 351.4L1465.8 351.4L1472.3 351.4" stroke="#DF536B"/>
<path d="M909.2 362.4L915.7 362.4L922.3 362.4L928.8 362.4L935.4 362.4L941.9 362.5L948.5 362.5L955.0 362.5L961.6 362.5L968.1 362.5L974.7 362.5L981.2 362.5L987.8 362.6L994.3 362.6L1000.9 362.6L1007.4 362.6L1014.0 362.6L1020.5 362.7L1027.1 362.7L1033.6 362.7L1040.2 362.7L1046.7 362.7L1053.2 362.8L1059.8 362.8L1066.3 362.8L1072.9 362.9L1079.4 362.9L1086.0 362.9L1092.5 363.0L1099.1 363.0L1105.6 363.0L1112.2 363.1L1118.7 363.2L1125.3 363.3L1131.8 363.4L1138.4 363.5L1144.9 363.6L1151.5 363.6L1158.0 363.4L1164.6 363.2L1171.1 362.8L1177.7 362.4L1184.2 362.1L1190.8 361.8L1197.3 361.5L1203.8 361.1L1210.4 360.8L1216.9 360.5L1223.5 360.1L1230.0 359.6L1236.6 359.2L1243.1 358.7L1249.7 358.3L1256.2 357.9L1262.8 357.6L1269.3 357.3L1275.9 356.9L1282.4 356.6L1289.0 356.3L1295.5 355.9L1302.1 355.5L1308.6 355.0L1315.2 354.6L1321.7 354.1L1328.3 353.7L1334.8 353.3L1341.3 353.0L1347.9 352.6L1354.4 352.3L1361.0 352.0L1367.5 351.7L1374.1 351.5L1380.6 351.4L1387.2 351.4L1393.7 351.4L1400.3 351.4L1406.8 351.4L1413.4 351.4L1419.9 351.4L1426.5 351.4L1433.0 351.4L1439.6 351.4L1446.1 351.4L1452.7 351.4L1459.2 351.4L1465.8 351.4L1472.3 351.4" stroke="#28E2E5"/>
<path d="M909.2 368.1L915.7 368.1L922.3 361.1L928.8 354.3L935.4 353.5L941.9 353.4L948.5 353.3L955.0 353.2L961.6 353.1L968.1 353.0L974.7 353.0L981.2 352.9L987.8 352.9L994.3 352.8L1000.9 352.8L1007.4 352.8L1014.0 352.7L1020.5 352.7L1027.1 352.7L1033.6 352.7L1040.2 352.6L1046.7 352.6L1053.2 352.6L1059.8 352.6L1066.3 352.6L1072.9 352.5L1079.4 352.5L1086.0 352.5L1092.5 352.4L1099.1 352.4L1105.6 352.4L1112.2 352.3L1118.7 352.3L1125.3 352.2L1131.8 352.2L1138.4 352.1L1144.9 352.0L1151.5 352.0L1158.0 351.9L1164.6 351.9L1171.1 351.8L1177.7 351.8L1184.2 351.7L1190.8 351.7L1197.3 351.6L1203.8 351.6L1210.4 351.5L1216.9 351.5L1223.5 351.5L1230.0 351.4L1236.6 351.4L1243.1 351.4L1249.7 351.4L1256.2 351.4L1262.8 351.4L1269.3 351.4L1275.9 351.4L1282.4 351.4L1289.0 351.4L1295.5 351.4L1302.1 351.4L1308.6 351.4L1315.2 351.4L1321.7 351.4L1328.3 351.4L1334.8 351.4L1341.3 351.4L1347.9 351.4L1354.4 351.4L1361.0 351.4L1367.5 351.4L1374.1 351.4L1380.6 351.4L1387.2 351.4L1393.7 351.4L1400.3 351.4L1406.8 351.4L1413.4 351.4L1419.9 351.4L1426.5 351.4L1433.0 351.4L1439.6 351.4L1446.1 351.4L1452.7 351.4L1459.2 351.4L1465.8 351.4L1472.3 351.4" stroke="#28E2E5"/>
<path d="M909.2 329.4L915.7 329.4L922.3 335.6L928.8 343.8L935.4 345.0L941.9 345.2L948.5 345.2L955.0 345.2L961.6 345.2L968.1 345.2L974.7 345.2L981.2 345.2L987.8 345.3L994.3 345.3L1000.9 345.3L1007.4 345.3L1014.0 345.3L1020.5 345.3L1027.1 345.3L1033.6 345.3L1040.2 345.3L1046.7 345.3L1053.2 345.3L1059.8 345.3L1066.3 345.3L1072.9 345.3L1079.4 345.3L1086.0 345.3L1092.5 345.3L1099.1 345.3L1105.6 345.3L1112.2 345.4L1118.7 345.5L1125.3 345.6L1131.8 345.8L1138.4 346.0L1144.9 346.3L1151.5 346.5L1158.0 346.8L1164.6 347.1L1171.1 347.4L1177.7 347.8L1184.2 348.1L1190.8 348.4L1197.3 348.7L1203.8 349.1L1210.4 349.4L1216.9 349.7L1223.5 350.0L1230.0 350.3L1236.6 350.5L1243.1 350.7L1249.7 350.9L1256.2 351.1L1262.8 351.2L1269.3 351.3L1275.9 351.4L1282.4 351.4L1289.0 351.4L1295.5 351.4L1302.1 351.4L1308.6 351.4L1315.2 351.4L1321.7 351.4L1328.3 351.4L1334.8 351.4L1341.3 351.4L1347.9 351.4L1354.4 351.4L1361.0 351.4L1367.5 351.4L1374.1 351.4L1380.6 351.4L1387.2 351.4L1393.7 351.4L1400.3 351.4L1406.8 351.4L1413.4 351.4L1419.9 351.4L1426.5 351.4L1433.0 351.4L1439.6 351.4L1446.1 351.4L1452.7 351.4L1459.2 351.4L1465.8 351.4L1472.3 351.4" stroke="#2297E6"/>
<path d="M909.2 376.3L915.7 376.3L922.3 376.3L928.8 376.3L935.4 376.3L941.9 376.2L948.5 376.2L955.0 376.2L961.6 376.1L968.1 375.9L974.7 375.8L981.2 375.6L987.8 375.3L994.3 375.1L1000.9 374.8L1007.4 374.5L1014.0 374.2L1020.5 373.9L1027.1 373.6L1033.6 373.3L1040.2 373.0L1046.7 372.7L1053.2 372.4L1059.8 372.0L1066.3 371.6L1072.9 371.1L1079.4 370.7L1086.0 370.2L1092.5 369.7L1099.1 369.1L1105.6 368.4L1112.2 367.7L1118.7 366.8L1125.3 365.8L1131.8 364.8L1138.4 363.7L1144.9 362.5L1151.5 361.3L1158.0 360.0L1164.6 358.4L1171.1 356.9L1177.7 355.5L1184.2 354.0L1190.8 352.5L1197.3 351.5L1203.8 351.4L1210.4 351.4L1216.9 351.4L1223.5 351.4L1230.0 351.4L1236.6 351.4L1243.1 351.4L1249.7 351.4L1256.2 351.4L1262.8 351.4L1269.3 351.4L1275.9 351.4L1282.4 351.4L1289.0 351.4L1295.5 351.4L1302.1 351.4L1308.6 351.4L1315.2 351.4L1321.7 351.4L1328.3 351.4L1334.8 351.4L1341.3 351.4L1347.9 351.4L1354.4 351.4L1361.0 351.4L1367.5 351.4L1374.1 351.4L1380.6 351.4L1387.2 351.4L1393.7 351.4L1400.3 351.4L1406.8 351.4L1413.4 351.4L1419.9 351.4L1426.5 351.4L1433.0 351.4L1439.6 351.4L1446.1 351.4L1452.7 351.4L1459.2 351.4L1465.8 351.4L1472.3 351.4" stroke="#DF536B"/>
<path d="M909.2 381.8L915.7 381.7L922.3 381.5L928.8 381.3L935.4 381.2L941.9 381.0L948.5 380.7L955.0 380.5L961.6 380.3L968.1 380.1L974.7 379.8L981.2 379.5L987.8 379.2L994.3 378.8L1000.9 378.4L1007.4 378.0L1014.0 377.4L1020.5 376.8L1027.1 376.1L1033.6 375.4L1040.2 374.7L1046.7 373.9L1053.2 373.1L1059.8 372.4L1066.3 371.6L1072.9 370.7L1079.4 369.9L1086.0 368.9L1092.5 367.8L1099.1 366.6L1105.6 365.1L1112.2 363.1L1118.7 360.9L1125.3 358.9L1131.8 356.8L1138.4 354.6L1144.9 352.8L1151.5 351.9L1158.0 351.4L1164.6 351.4L1171.1 351.4L1177.7 351.4L1184.2 351.4L1190.8 351.4L1197.3 351.4L1203.8 351.4L1210.4 351.4L1216.9 351.4L1223.5 351.4L1230.0 351.4L1236.6 351.4L1243.1 351.4L1249.7 351.4L1256.2 351.4L1262.8 351.4L1269.3 351.4L1275.9 351.4L1282.4 351.4L1289.0 351.4L1295.5 351.4L1302.1 351.4L1308.6 351.4L1315.2 351.4L1321.7 351.4L1328.3 351.4L1334.8 351.4L1341.3 351.4L1347.9 351.4L1354.4 351.4L1361.0 351.4L1367.5 351.4L1374.1 351.4L1380.6 351.4L1387.2 351.4L1393.7 351.4L1400.3 351.4L1406.8 351.4L1413.4 351.4L1419.9 351.4L1426.5 351.4L1433.0 351.4L1439.6 351.4L1446.1 351.4L1452.7 351.4L1459.2 351.4L1465.8 351.4L1472.3 351.4" stroke="#2297E6"/>
<path d="M909.2 417.9L915.7 417.9L922.3 407.1L928.8 403.5L935.4 401.8L941.9 400.8L948.5 400.6L955.0 400.5L961.6 400.4L968.1 400.3L974.7 400.2L981.2 399.9L987.8 398.7L994.3 396.6L1000.9 395.2L1007.4 395.0L1014.0 394.9L1020.5 394.9L1027.1 394.8L1033.6 394.7L1040.2 394.5L1046.7 394.4L1053.2 394.2L1059.8 394.0L1066.3 393.7L1072.9 393.4L1079.4 393.1L1086.0 392.8L1092.5 392.5L1099.1 392.1L1105.6 391.6L1112.2 391.1L1118.7 390.6L1125.3 390.0L1131.8 389.4L1138.4 388.7L1144.9 387.9L1151.5 387.0L1158.0 386.0L1164.6 384.9L1171.1 383.8L1177.7 382.9L1184.2 381.9L1190.8 380.9L1197.3 379.9L1203.8 379.0L1210.4 378.0L1216.9 377.0L1223.5 375.9L1230.0 374.8L1236.6 373.6L1243.1 372.3L1249.7 371.1L1256.2 369.8L1262.8 368.2L1269.3 366.3L1275.9 364.2L1282.4 362.0L1289.0 359.7L1295.5 357.3L1302.1 354.9L1308.6 352.6L1315.2 351.6L1321.7 351.4L1328.3 351.4L1334.8 351.4L1341.3 351.4L1347.9 351.4L1354.4 351.4L1361.0 351.4L1367.5 351.4L1374.1 351.4L1380.6 351.4L1387.2 351.4L1393.7 351.4L1400.3 351.4L1406.8 351.4L1413.4 351.4L1419.9 351.4L1426.5 351.4L1433.0 351.4L1439.6 351.4L1446.1 351.4L1452.7 351.4L1459.2 351.4L1465.8 351.4L1472.3 351.4" stroke="#2297E6"/>
<path d="M909.2 505.1L915.7 502.1L922.3 499.2L928.8 496.2L935.4 493.3L941.9 490.5L948.5 487.6L955.0 484.8L961.6 482.0L968.1 479.2L974.7 476.4L981.2 473.6L987.8 470.9L994.3 468.2L1000.9 465.4L1007.4 462.8L1014.0 460.1L1020.5 457.4L1027.1 454.7L1033.6 452.1L1040.2 449.4L1046.7 446.8L1053.2 444.1L1059.8 441.5L1066.3 438.9L1072.9 436.3L1079.4 433.6L1086.0 431.0L1092.5 428.4L1099.1 425.8L1105.6 423.2L1112.2 420.5L1118.7 417.9L1125.3 415.3L1131.8 412.6L1138.4 410.0L1144.9 407.3L1151.5 404.6L1158.0 401.9L1164.6 399.2L1171.1 396.5L1177.7 393.8L1184.2 391.1L1190.8 388.3L1197.3 385.6L1203.8 382.8L1210.4 380.0L1216.9 377.2L1223.5 374.3L1230.0 371.4L1236.6 368.6L1243.1 365.6L1249.7 362.7L1256.2 359.7L1262.8 356.7L1269.3 353.7L1275.9 351.8L1282.4 351.4L1289.0 351.4L1295.5 351.4L1302.1 351.4L1308.6 351.4L1315.2 351.4L1321.7 351.4L1328.3 351.4L1334.8 351.4L1341.3 351.4L1347.9 351.4L1354.4 351.4L1361.0 351.4L1367.5 351.4L1374.1 351.4L1380.6 351.4L1387.2 351.4L1393.7 351.4L1400.3 351.4L1406.8 351.4L1413.4 351.4L1419.9 351.4L1426.5 351.4L1433.0 351.4L1439.6 351.4L1446.1 351.4L1452.7 351.4L1459.2 351.4L1465.8 351.4L1472.3 351.4" stroke="#CD0BBC"/>
<path d="M909.2 236.7L915.7 239.1L922.3 241.6L928.8 244.1L935.4 246.6L941.9 249.1L948.5 251.7L955.0 254.3L961.6 257.1L968.1 259.8L974.7 262.4L981.2 265.0L987.8 267.4L994.3 269.7L1000.9 271.9L1007.4 274.0L1014.0 276.0L1020.5 278.0L1027.1 280.0L1033.6 282.0L1040.2 284.0L1046.7 285.9L1053.2 287.9L1059.8 289.9L1066.3 291.9L1072.9 293.8L1079.4 295.6L1086.0 297.3L1092.5 299.0L1099.1 300.7L1105.6 302.7L1112.2 304.7L1118.7 306.5L1125.3 307.9L1131.8 309.0L1138.4 310.3L1144.9 311.7L1151.5 313.1L1158.0 314.4L1164.6 315.7L1171.1 316.8L1177.7 317.8L1184.2 318.7L1190.8 319.6L1197.3 320.6L1203.8 321.5L1210.4 322.5L1216.9 323.4L1223.5 324.4L1230.0 325.4L1236.6 326.5L1243.1 327.7L1249.7 328.9L1256.2 330.2L1262.8 331.7L1269.3 333.2L1275.9 334.9L1282.4 336.9L1289.0 339.3L1295.5 342.3L1302.1 345.6L1308.6 347.9L1315.2 350.1L1321.7 351.4L1328.3 351.4L1334.8 351.4L1341.3 351.4L1347.9 351.4L1354.4 351.4L1361.0 351.4L1367.5 351.4L1374.1 351.4L1380.6 351.4L1387.2 351.4L1393.7 351.4L1400.3 351.4L1406.8 351.4L1413.4 351.4L1419.9 351.4L1426.5 351.4L1433.0 351.4L1439.6 351.4L1446.1 351.4L1452.7 351.4L1459.2 351.4L1465.8 351.4L1472.3 351.4" stroke="#CD0BBC"/>
<path d="M909.2 71.8L915.7 75.0L922.3 78.2L928.8 81.3L935.4 84.4L941.9 87.5L948.5 90.6L955.0 93.6L961.6 96.6L968.1 99.6L974.7 102.6L981.2 105.6L987.8 108.5L994.3 111.4L1000.9 114.3L1007.4 117.3L1014.0 120.4L1020.5 123.5L1027.1 126.8L1033.6 130.1L1040.2 133.5L1046.7 137.0L1053.2 140.6L1059.8 144.4L1066.3 148.4L1072.9 152.4L1079.4 156.3L1086.0 159.9L1092.5 163.5L1099.1 167.3L1105.6 171.2L1112.2 175.3L1118.7 179.5L1125.3 183.8L1131.8 188.9L1138.4 194.7L1144.9 200.5L1151.5 205.8L1158.0 210.4L1164.6 214.6L1171.1 219.0L1177.7 223.8L1184.2 228.8L1190.8 233.3L1197.3 237.0L1203.8 240.3L1210.4 243.4L1216.9 246.6L1223.5 249.8L1230.0 253.1L1236.6 256.4L1243.1 259.9L1249.7 263.6L1256.2 267.3L1262.8 271.0L1269.3 274.7L1275.9 278.4L1282.4 282.0L1289.0 285.7L1295.5 289.4L1302.1 293.0L1308.6 296.6L1315.2 300.4L1321.7 304.4L1328.3 308.7L1334.8 313.2L1341.3 317.6L1347.9 321.9L1354.4 326.2L1361.0 330.6L1367.5 335.1L1374.1 339.7L1380.6 345.2L1387.2 350.6L1393.7 351.4L1400.3 351.4L1406.8 351.4L1413.4 351.4L1419.9 351.4L1426.5 351.4L1433.0 351.4L1439.6 351.4L1446.1 351.4L1452.7 351.4L1459.2 351.4L1465.8 351.4L1472.3 351.4" stroke="#000000"/>
<path d="M1302.1 351.4L1308.6 351.4L1315.2 351.4L1321.7 351.4L1328.3 351.4L1334.8 351.4L1341.3 351.4L1347.9 351.4L1354.4 351.4L1361.0 351.4L1367.5 351.4L1374.1 351.4L1380.6 351.4L1387.2 351.4L1393.7 351.4L1400.3 351.4L1406.8 351.4L1413.4 351.4L1419.9 351.4L1426.5 351.4L1433.0 351.4L1439.6 351.4L1446.1 351.4L1452.7 351.4L1459.2 351.4L1465.8 351.4L1472.3 351.4" stroke="#000000"/>
</g>
<g font-family='"Liberation Sans", sans-serif' font-size="10.5" fill="#222" text-anchor="end">
<text x="896" y="74.2">71</text>
<text x="896" y="239.1">76</text>
<text x="896" y="420.8">61</text>
<text x="896" y="507.4">70</text>
<text x="896" y="329.4">40</text>
<text x="896" y="330.8">79</text>
<text x="896" y="332.1">26</text>
<text x="896" y="333.5">57</text>
<text x="896" y="334.9">70</text>
<text x="896" y="336.2">18</text>
<text x="896" y="337.6">11</text>
<text x="896" y="339.0">70</text>
<text x="896" y="340.4">43</text>
<text x="896" y="341.7">39</text>
<text x="896" y="343.1">34</text>
<text x="896" y="344.5">70</text>
<text x="896" y="345.8">79</text>
<text x="896" y="347.2">70</text>
<text x="896" y="348.6">60</text>
<text x="896" y="349.9">29</text>
<text x="896" y="351.3">39</text>
<text x="896" y="352.7">29</text>
<text x="896" y="354.1">76</text>
<text x="896" y="355.4">59</text>
<text x="896" y="356.8">11</text>
<text x="896" y="358.2">18</text>
<text x="896" y="359.5">30</text>
<text x="896" y="360.9">15</text>
<text x="896" y="363.9">48</text>
<text x="896" y="367.2">13</text>
<text x="896" y="370.6">44</text>
<text x="896" y="373.9">70</text>
<text x="896" y="377.2">59</text>
<text x="896" y="380.6">64</text>
<text x="896" y="383.9">60</text>
</g>
<rect x="860" y="54.5" width="26.5" height="467.29999999999995" fill="#fff"/>
<rect x="886.5" y="54.5" width="608.7" height="467.29999999999995" fill="none" stroke="#000" stroke-width="1.8" stroke-linejoin="round"/>
<path d="M873.5 80.00H886.5M873.5 215.70H886.5M873.5 351.40H886.5M873.5 487.10H886.5M1023.70 521.8V534.8M1023.70 54.5V49.0M1164.70 521.8V534.8M1164.70 54.5V49.0M1305.70 521.8V534.8M1305.70 54.5V49.0M1446.70 521.8V534.8M1446.70 54.5V49.0" stroke="#000" stroke-width="1.8" fill="none"/>
<g font-family='"Liberation Sans", sans-serif' font-size="21" fill="#000">
<text transform="translate(856.00 80.00) rotate(-90) scale(1 1.04)" text-anchor="middle">10</text>
<text transform="translate(856.00 215.70) rotate(-90) scale(1 1.04)" text-anchor="middle">5</text>
<text transform="translate(856.00 351.40) rotate(-90) scale(1 1.04)" text-anchor="middle">0</text>
<text transform="translate(856.00 487.10) rotate(-90) scale(1 1.04)" text-anchor="middle">−5</text>
<text transform="translate(1023.70 568.20) scale(1 1.04)" text-anchor="middle">−8</text>
<text transform="translate(1164.70 568.20) scale(1 1.04)" text-anchor="middle">−6</text>
<text transform="translate(1305.70 568.20) scale(1 1.04)" text-anchor="middle">−4</text>
<text transform="translate(1446.70 568.20) scale(1 1.04)" text-anchor="middle">−2</text>
<text transform="translate(1023.70 24.20) scale(1 1.04)" text-anchor="middle">68</text>
<text transform="translate(1164.70 24.20) scale(1 1.04)" text-anchor="middle">57</text>
<text transform="translate(1305.70 24.20) scale(1 1.04)" text-anchor="middle">23</text>
<text transform="translate(1446.70 24.20) scale(1 1.04)" text-anchor="middle">3</text>
<text transform="translate(806.00 288.15) rotate(-90) scale(1.014 1.04)" text-anchor="middle">Coefficients</text>
<text transform="translate(1190.85 619.50) scale(1 1.04)" text-anchor="middle">Log Lambda</text>
</g>
<text transform="translate(802 35.6) scale(1 1.035)" font-family='"Liberation Sans", sans-serif' font-weight="bold" font-size="42.5" fill="#000">B</text>
</svg>
</body></html>
